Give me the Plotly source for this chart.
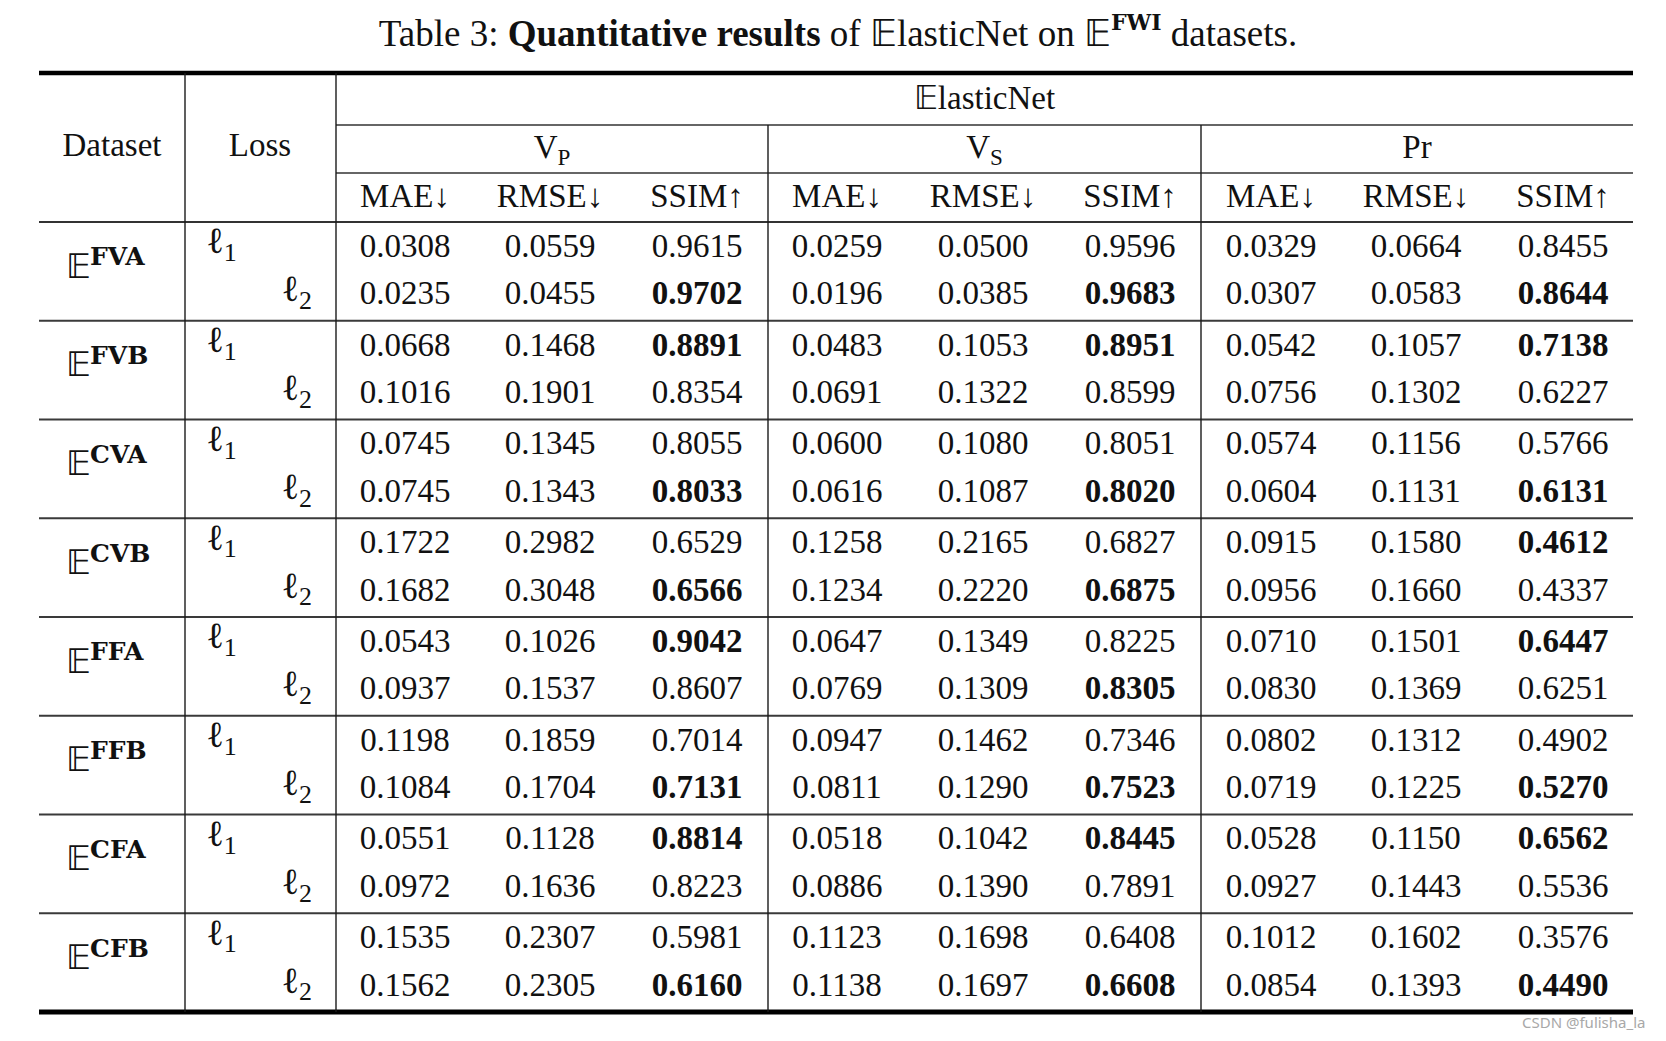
import plotly.graph_objects as go

# ---------------- data ----------------
datasets = ["FVA", "FVB", "CVA", "CVB", "FFA", "FFB", "CFA", "CFB"]
dataset_symbol = "𝔼"
losses = ["ℓ<sub>1</sub>", "ℓ<sub>2</sub>"]
group_names = ["V<sub>P</sub>", "V<sub>S</sub>", "Pr"]
metric_names = ["MAE↓", "RMSE↓", "SSIM↑"]
model_name = "𝔼lasticNet"

vp_mae = [0.0308, 0.0235, 0.0668, 0.1016, 0.0745, 0.0745, 0.1722, 0.1682,
          0.0543, 0.0937, 0.1198, 0.1084, 0.0551, 0.0972, 0.1535, 0.1562]
vp_rmse = [0.0559, 0.0455, 0.1468, 0.1901, 0.1345, 0.1343, 0.2982, 0.3048,
           0.1026, 0.1537, 0.1859, 0.1704, 0.1128, 0.1636, 0.2307, 0.2305]
vp_ssim = [0.9615, 0.9702, 0.8891, 0.8354, 0.8055, 0.8033, 0.6529, 0.6566,
           0.9042, 0.8607, 0.7014, 0.7131, 0.8814, 0.8223, 0.5981, 0.6160]
vs_mae = [0.0259, 0.0196, 0.0483, 0.0691, 0.0600, 0.0616, 0.1258, 0.1234,
          0.0647, 0.0769, 0.0947, 0.0811, 0.0518, 0.0886, 0.1123, 0.1138]
vs_rmse = [0.0500, 0.0385, 0.1053, 0.1322, 0.1080, 0.1087, 0.2165, 0.2220,
           0.1349, 0.1309, 0.1462, 0.1290, 0.1042, 0.1390, 0.1698, 0.1697]
vs_ssim = [0.9596, 0.9683, 0.8951, 0.8599, 0.8051, 0.8020, 0.6827, 0.6875,
           0.8225, 0.8305, 0.7346, 0.7523, 0.8445, 0.7891, 0.6408, 0.6608]
pr_mae = [0.0329, 0.0307, 0.0542, 0.0756, 0.0574, 0.0604, 0.0915, 0.0956,
          0.0710, 0.0830, 0.0802, 0.0719, 0.0528, 0.0927, 0.1012, 0.0854]
pr_rmse = [0.0664, 0.0583, 0.1057, 0.1302, 0.1156, 0.1131, 0.1580, 0.1660,
           0.1501, 0.1369, 0.1312, 0.1225, 0.1150, 0.1443, 0.1602, 0.1393]
pr_ssim = [0.8455, 0.8644, 0.7138, 0.6227, 0.5766, 0.6131, 0.4612, 0.4337,
           0.6447, 0.6251, 0.4902, 0.5270, 0.6562, 0.5536, 0.3576, 0.4490]

# index (0 = ℓ1, 1 = ℓ2) of the bold SSIM value in each dataset
vp_best = [1, 0, 1, 1, 0, 1, 0, 1]
vs_best = [1, 0, 1, 1, 1, 1, 0, 1]
pr_best = [1, 0, 1, 0, 0, 1, 0, 1]

# ---------------- layout constants ----------------
PAGE_W, PAGE_H = 1666, 1041
BODY = 8                      # default page margin of the html body
W, H = PAGE_W - 2 * BODY, PAGE_H - 2 * BODY
FONT = "Liberation Serif, Times New Roman, serif"
SUPFONT = "DejaVu Serif"
FS = 33
INK = "#111111"

x_left, x_right = 39, 1633
x_v1, x_v2 = 185, 336
x_g = [336, 768, 1201, 1633]
col_x = [405, 550, 697, 837, 983, 1130, 1271, 1416, 1563]
y_top, y_r1, y_r2, y_head = 73, 125, 173, 222
group_h = 98.75
y_bottom = y_head + group_h * len(datasets)
off_l1, off_l2 = 26.5, 74

columns = [vp_mae, vp_rmse, vp_ssim, vs_mae, vs_rmse, vs_ssim, pr_mae, pr_rmse, pr_ssim]
bests = {2: vp_best, 5: vs_best, 8: pr_best}

fig = go.Figure()


def add_text(xs, ys, texts, pos="middle center", size=FS, family=FONT, color=INK,
             weight="normal"):
    if not texts:
        return
    fig.add_trace(go.Scatter(
        x=xs, y=ys, text=texts, mode="text", textposition=pos,
        textfont=dict(family=family, size=size, color=color, weight=weight),
        hoverinfo="skip", showlegend=False, cliponaxis=False))


group_top = [y_head + gi * group_h for gi in range(len(datasets))]
row_y = []
for top in group_top:
    row_y += [top + off_l1, top + off_l2]

# numeric cells (regular and bold entries as separate traces)
for ci, col in enumerate(columns):
    reg_y, reg_t, bold_y, bold_t = [], [], [], []
    for ri, v in enumerate(col):
        s = f"{v:.4f}"
        if ci in bests and bests[ci][ri // 2] == ri % 2:
            bold_y.append(row_y[ri]); bold_t.append(s)
        else:
            reg_y.append(row_y[ri]); reg_t.append(s)
    add_text([col_x[ci]] * len(reg_t), reg_y, reg_t)
    add_text([col_x[ci]] * len(bold_t), bold_y, bold_t, weight="bold")

# dataset labels: blackboard E with a bold superscript name
add_text([66] * len(datasets), [t + 47 for t in group_top],
         [dataset_symbol] * len(datasets), pos="middle right", size=34)
add_text([90] * len(datasets), [t + 37 for t in group_top],
         datasets, pos="middle right", size=25, family=SUPFONT, weight="bold")

# loss labels
add_text([206] * len(datasets), [t + 22 for t in group_top],
         [losses[0]] * len(datasets), pos="middle right", size=37)
add_text([312] * len(datasets), [t + 70 for t in group_top],
         [losses[1]] * len(datasets), pos="middle left", size=37)

# header
add_text([112, 260], [148, 148], ["Dataset", "Loss"])
add_text([(x_g[0] + x_g[3]) / 2], [101], [model_name])
add_text([(x_g[i] + x_g[i + 1]) / 2 for i in range(3)], [150] * 3, group_names)
add_text(col_x, [199] * 9, metric_names * 3)


# rules
def hline(x0, x1, y, w, color="#1a1a1a"):
    fig.add_shape(type="line", xref="x", yref="y", x0=x0, x1=x1, y0=y, y1=y,
                  line=dict(color=color, width=w))


def vline(x, y0, y1, w=1.4, color="#1a1a1a"):
    fig.add_shape(type="line", xref="x", yref="y", x0=x, x1=x, y0=y0, y1=y1,
                  line=dict(color=color, width=w))


hline(x_left, x_right, y_top, 4.5, "#000000")
hline(x_g[0], x_right, y_r1, 1.6, "#333333")
hline(x_g[0], x_right, y_r2, 1.6, "#333333")
hline(x_left, x_right, y_head, 2.2, "#333333")
for gi in range(1, len(datasets)):
    hline(x_left, x_right, group_top[gi], 1.8, "#3a3a3a")
hline(x_left, x_right, y_bottom, 5, "#000000")

vline(x_v1, y_top, y_bottom)
vline(x_v2, y_top, y_bottom)
vline(x_g[1], y_r1, y_bottom)
vline(x_g[2], y_r1, y_bottom)

title_sup = f"font-family:{SUPFONT};font-size:22px"
fig.update_layout(
    width=W, height=H,
    margin=dict(l=0, r=0, t=0, b=0),
    paper_bgcolor="white", plot_bgcolor="white",
    xaxis=dict(range=[BODY, BODY + W], visible=False, fixedrange=True),
    yaxis=dict(range=[BODY + H, BODY], visible=False, fixedrange=True),
    title=dict(
        text=("Table 3: <b>Quantitative results</b> of 𝔼lasticNet on "
              f"𝔼<sup><span style='{title_sup}'><b>FWI</b></span></sup> datasets."),
        x=(838 - BODY) / W, xanchor="center", y=1 - (33 - BODY) / H, yanchor="middle",
        font=dict(family=FONT, size=37, color=INK)),
    annotations=[dict(
        text="CSDN @fulisha_la", x=1647, y=1022, xref="x", yref="y",
        xanchor="right", yanchor="middle", showarrow=False,
        font=dict(family="Noto Sans, sans-serif", size=15, color="#a8a8a8"))],
)

fig.write_html("out.html")
